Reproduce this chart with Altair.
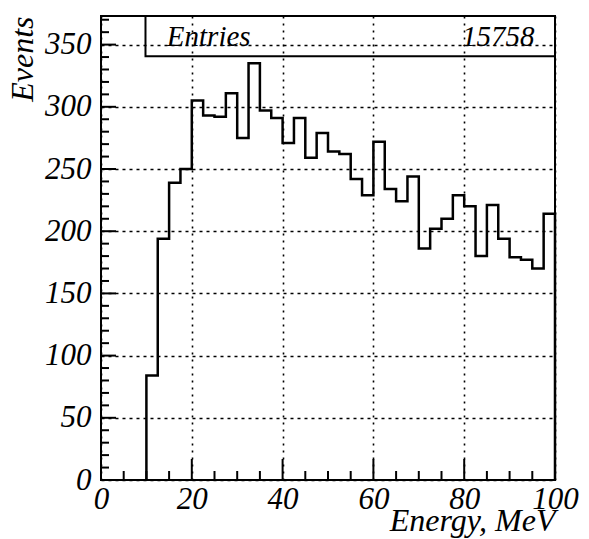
import altair as alt
import pandas as pd

# ---- data ----
bin_edges = [10, 12.5, 15, 17.5, 20, 22.5, 25, 27.5, 30, 32.5, 35, 37.5,
             40, 42.5, 45, 47.5, 50, 52.5, 55, 57.5, 60, 62.5, 65, 67.5,
             70, 72.5, 75, 77.5, 80, 82.5, 85, 87.5, 90, 92.5, 95, 97.5]
counts = [84, 194, 239, 250, 305, 293, 292, 311, 275, 335, 297, 291,
          271, 291, 259, 279, 264, 262, 242, 229, 272, 234, 224, 244,
          186, 202, 210, 229, 220, 180, 221, 194, 179, 177, 170, 214]
x_hi = 100
x_major = [0, 20, 40, 60, 80, 100]
x_minor = [5, 10, 15, 25, 30, 35, 45, 50, 55, 65, 70, 75, 85, 90, 95]
y_major = [0, 50, 100, 150, 200, 250, 300, 350]
y_minor = [10, 20, 30, 40, 60, 70, 80, 90, 110, 120, 130, 140, 160, 170, 180, 190,
           210, 220, 230, 240, 260, 270, 280, 290, 310, 320, 330, 340, 360, 370]
stats_label = "Entries"
stats_value = "15758"

# step outline points
xs = [bin_edges[0]] + bin_edges + [x_hi, x_hi]
ys = [0] + counts + [counts[-1], 0]
df = pd.DataFrame({"edge": xs, "count": ys, "i": list(range(len(xs)))})

W, H = 454, 464
FONT = "Liberation Serif"
X_MAX, Y_MAX = 100, 373
PX_PER_X = W / X_MAX
PX_PER_Y = H / Y_MAX

xscale = alt.Scale(domain=[0, X_MAX], nice=False, zero=False)
yscale = alt.Scale(domain=[0, Y_MAX], nice=False, zero=False)

ax_bottom = alt.Axis(orient="bottom", values=x_major, ticks=False, tickSize=0, domain=False,
                     labelFont=FONT, labelFontStyle="italic", labelFontSize=31, labelColor="black",
                     labelPadding=4, labelFlush=False,
                     grid=True, gridDash=[2, 5], gridColor="black", gridWidth=1.6, gridOpacity=1,
                     title="Energy, MeV", titleFont=FONT, titleFontStyle="italic", titleFontSize=32,
                     titleFontWeight="normal", titleColor="black", titleAnchor="end", titleAlign="right",
                     titleX=W, titleY=50, titleBaseline="alphabetic")
ax_left = alt.Axis(orient="left", values=y_major, ticks=False, tickSize=0, domain=False,
                   labelFont=FONT, labelFontStyle="italic", labelFontSize=31, labelColor="black",
                   labelPadding=10, labelFlush=False,
                   grid=True, gridDash=[3, 4], gridColor="black", gridWidth=1.6, gridOpacity=1,
                   title="Events", titleFont=FONT, titleFontStyle="italic", titleFontSize=32,
                   titleFontWeight="normal", titleColor="black", titleAngle=270, titleAlign="right",
                   titleX=-69, titleY=0, titleBaseline="alphabetic")

hist = alt.Chart(df).mark_line(interpolate="step-after", color="black", strokeWidth=2.5).encode(
    x=alt.X("edge:Q", scale=xscale, axis=ax_bottom),
    y=alt.Y("count:Q", scale=yscale, axis=ax_left),
    order=alt.Order("i:Q"),
)


# inward tick marks, lengths given in pixels and converted to data units
def xticks(values, length_px):
    return alt.Chart(pd.DataFrame({"edge": values})).mark_rule(
        color="black", strokeWidth=2
    ).encode(
        x=alt.X("edge:Q", scale=xscale, axis=ax_bottom),
        y=alt.YDatum(0, scale=yscale, axis=ax_left),
        y2=alt.Y2Datum(length_px / PX_PER_Y),
    )


def yticks(values, length_px):
    return alt.Chart(pd.DataFrame({"count": values})).mark_rule(
        color="black", strokeWidth=2
    ).encode(
        y=alt.Y("count:Q", scale=yscale, axis=ax_left),
        x=alt.XDatum(0, scale=xscale, axis=ax_bottom),
        x2=alt.X2Datum(length_px / PX_PER_X),
    )


one = pd.DataFrame({"k": [0]})
box = alt.Chart(one).mark_rect(fillOpacity=0, stroke="black", strokeWidth=2).encode(
    x=alt.XDatum(9.8, scale=xscale, axis=ax_bottom),
    x2=alt.X2Datum(100),
    y=alt.YDatum(340.6, scale=yscale, axis=ax_left),
    y2=alt.Y2Datum(373),
)
txt_l = alt.Chart(one).mark_text(
    align="left", baseline="alphabetic", font=FONT, fontStyle="italic", fontSize=29, color="black"
).encode(
    x=alt.XDatum(14.5, scale=xscale, axis=ax_bottom),
    y=alt.YDatum(349, scale=yscale, axis=ax_left),
    text=alt.value(stats_label),
)
txt_r = alt.Chart(one).mark_text(
    align="right", baseline="alphabetic", font=FONT, fontStyle="italic", fontSize=29, color="black"
).encode(
    x=alt.XDatum(95.5, scale=xscale, axis=ax_bottom),
    y=alt.YDatum(349, scale=yscale, axis=ax_left),
    text=alt.value(stats_value),
)

chart = alt.layer(
    xticks(x_major, 21), xticks(x_minor, 9), yticks(y_major, 15), yticks(y_minor, 8),
    box, txt_l, txt_r, hist
).properties(
    width=W, height=H,
    autosize=alt.AutoSizeParams(type="none"),
    padding={"left": 101, "top": 16, "right": 589 - 101 - W, "bottom": 539 - 16 - H},
).configure(background="white").configure_view(stroke="black", strokeWidth=2)

chart.save("out.html", embed_options={"renderer": "svg", "actions": False})
